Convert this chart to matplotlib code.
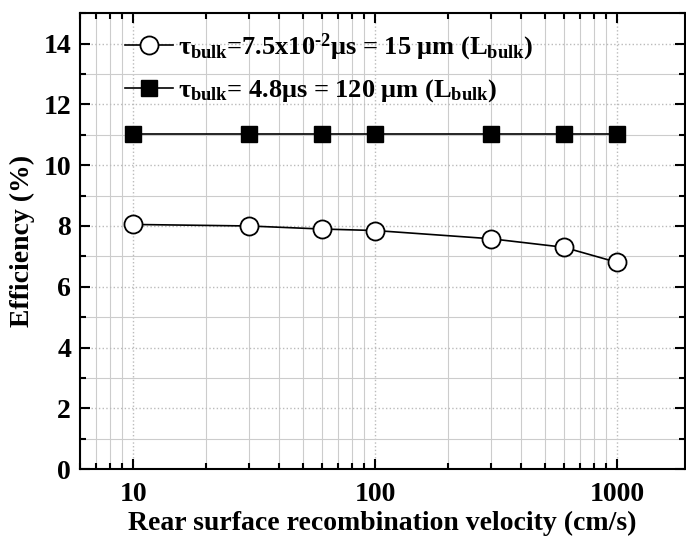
import matplotlib
matplotlib.use('Agg')
import matplotlib.pyplot as plt
from matplotlib.ticker import LogLocator, MultipleLocator, FixedLocator, NullFormatter

plt.rcParams['font.family'] = ['Liberation Serif', 'DejaVu Serif']
plt.rcParams['font.weight'] = 'bold'
plt.rcParams['mathtext.fontset'] = 'custom'
plt.rcParams['mathtext.rm'] = 'Liberation Serif:bold'
plt.rcParams['mathtext.it'] = 'Liberation Serif:bold'
plt.rcParams['mathtext.bf'] = 'Liberation Serif:bold'

# rear surface recombination velocity (cm/s)
velocity = [10, 30, 60, 100, 300, 600, 1000]
# efficiency (%)
eff_short = [8.05, 8.0, 7.9, 7.85, 7.58, 7.3, 6.8]
eff_long = [11.03, 11.03, 11.03, 11.03, 11.03, 11.03, 11.03]

label_short = '$\\tau_{\\rm bulk}$=7.5x10$^{\u2010 2}$$\\mu$s = 15 $\\mu$m (L$_{\\rm bulk}$)'
label_long = r'$\tau_{\rm bulk}$= 4.8$\mu$s = 120 $\mu$m (L$_{\rm bulk}$)'

fig = plt.figure(figsize=(6.86, 5.5), dpi=100)
ax = fig.add_axes([0.116, 0.147, 0.8825, 0.829])

ax.plot(velocity, eff_short, 'o-', color='black', mfc='white', mec='black',
        markersize=13, mew=1.3, lw=1.2, label=label_short, zorder=3)
ax.plot(velocity, eff_long, 's-', color='black', markersize=11, lw=1.2,
        label=label_long, zorder=3)

ax.set_xscale('log')
ax.set_xlim(6, 1900)
ax.set_ylim(0, 15)
ax.xaxis.set_major_locator(FixedLocator([10, 100, 1000]))
ax.xaxis.set_major_formatter(matplotlib.ticker.FixedFormatter(['10', '100', '1000']))
ax.xaxis.set_minor_locator(LogLocator(base=10, subs=range(2, 10)))
ax.xaxis.set_minor_formatter(NullFormatter())
ax.yaxis.set_major_locator(MultipleLocator(2))
ax.yaxis.set_minor_locator(MultipleLocator(1))

ax.grid(True, which='major', color='#bbbbbb', linestyle=':', lw=1.0)
ax.grid(True, which='minor', color='#cccccc', linestyle='-', lw=0.8)
ax.set_axisbelow(True)

ax.tick_params(which='both', direction='in', top=True, right=True,
               labelsize=20, width=1.5)
ax.tick_params(which='major', length=7)
ax.tick_params(which='minor', length=4)
ax.tick_params(axis='x', which='major', pad=9)
ax.tick_params(axis='y', which='major', pad=6)
for s in ax.spines.values():
    s.set_linewidth(1.5)

ax.set_xlabel('Rear surface recombination velocity (cm/s)', fontsize=20,
              fontweight='bold', labelpad=3)
ax.set_ylabel('Efficiency (%)', fontsize=20, fontweight='bold', labelpad=6)

ax.legend(loc='upper left', frameon=False, fontsize=19, handlelength=1.8,
          handletextpad=0.2, borderaxespad=0.3, labelspacing=0.55,
          bbox_to_anchor=(0.045, 1.0))

fig.savefig('out.png', dpi=100)
